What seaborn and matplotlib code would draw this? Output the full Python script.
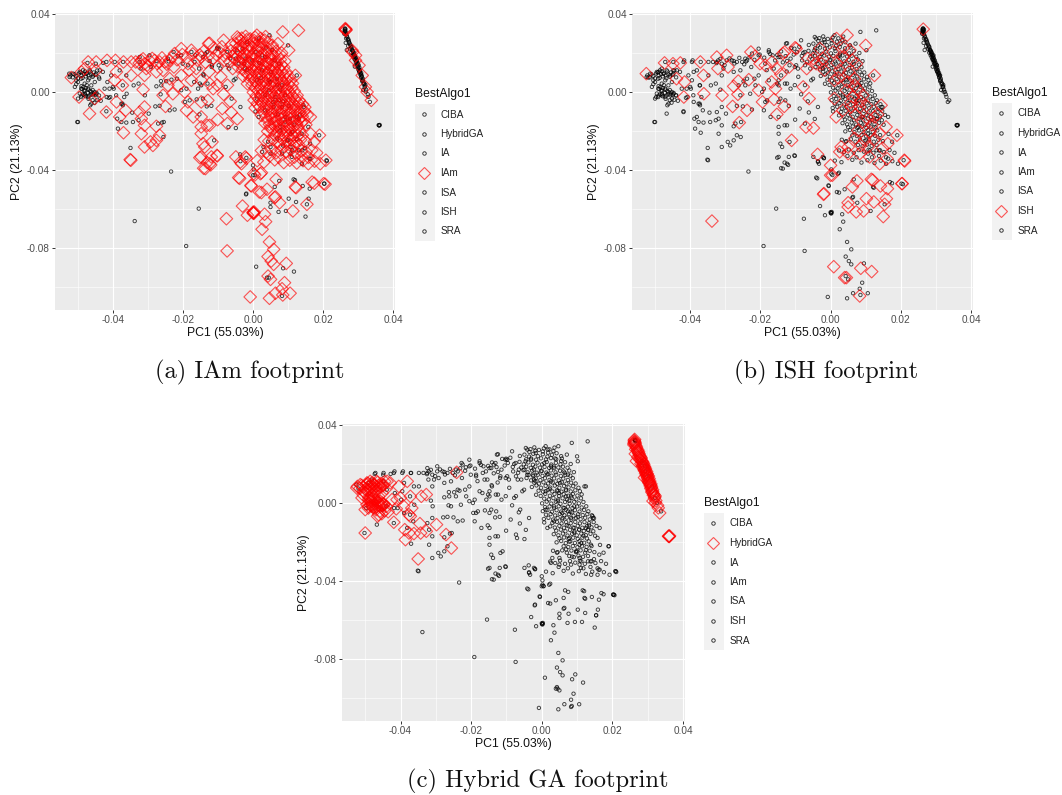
import warnings
import matplotlib
matplotlib.use("Agg")
import matplotlib.pyplot as plt
from matplotlib.lines import Line2D
from matplotlib.patches import Rectangle
from matplotlib.ticker import MultipleLocator
import pandas as pd
import seaborn as sns

warnings.filterwarnings("ignore")

ALGOS = ["CIBA", "HybridGA", "IA", "IAm", "ISA", "ISH", "SRA"]
X_TICKS = [-0.04, -0.02, 0.00, 0.02, 0.04]
Y_TICKS = [-0.08, -0.04, 0.00, 0.04]

# values as (PC1, PC2)
iam_left = [
    (-.0519, .0074), (-.049, .0103), (-.0481, .012), (-.0471, .0154), (-.0448, .0154), (-.0448, .0111),
    (-.0497, -.0026), (-.0452, -.0034), (-.044, -.0017), (-.0467, -.0111), (-.0419, -.0103), (-.0417, .0162),
    (-.0393, .0162), (-.037, .0154), (-.0348, .0154), (-.039, .0103), (-.0395, .006), (-.0373, .0034),
    (-.0348, .0085), (-.0314, .0012), (-.039, -.0051), (-.0364, -.0094), (-.0381, -.0128), (-.037, -.0209),
    (-.0351, -.0347), (-.0319, -.0214), (-.031, -.0077), (-.0324, -.0103), (-.0319, -.0137), (-.031, -.0171),
    (-.031, -.0282), (-.0293, -.0256), (-.025, -.0074), (-.0257, -.0017), (-.0335, .0154), (-.032, .0162),
    (-.031, .0145), (-.0296, .0162), (-.0281, .0162), (-.0267, .0154), (-.0252, .0154), (-.0238, .0162),
    (-.0224, .0197), (-.0205, .0222), (-.0176, .0214), (-.0152, .019), (-.0124, .025), (-.0096, .0205),
    (-.0305, .012), (-.031, .0085), (-.0276, .0103), (-.0257, .0111), (-.0243, .0034), (-.0229, -.0009),
    (-.0214, .0034), (-.0195, 0.0), (-.0186, -.0051), (-.019, -.0094), (-.0171, -.0128), (-.0148, -.0128),
    (-.0129, -.0043), (-.0148, -.0051), (-.0176, .006), (-.0162, .012), (-.0148, .006), (-.0124, .0043),
    (-.0114, .0017), (-.0186, .0145), (-.0148, .0179), (-.0114, .0171), (-.0148, -.0179), (-.0124, -.0171),
    (-.0148, -.0214), (-.0143, -.0265), (-.0138, -.0282), (-.0148, -.0333), (-.0119, -.0333), (-.0124, -.0368),
    (-.0136, -.0393), (-.0276, -.0176), (-.0267, -.0222), (-.0276, -.0248), (-.0286, -.0274),
    (-.0325, .0148), (-.0314, .017), (-.0302, .0138), (-.0288, .0172), (-.0274, .0146), (-.026, .0175),
    (-.0246, .0142), (-.0231, .0178), (-.0217, .0165), (-.0202, .0192), (-.0189, .0176), (-.0172, .0195),
    (-.0158, .0162), (-.0141, .0208), (-.0128, .0184), (-.0112, .0226), (-.0105, .0192), (-.0089, .0232),
    (-.0082, .0185), (-.0136, .0152), (-.0182, .0112), (-.0205, .0085), (-.0226, .0128), (-.0238, .0068),
    (-.0125, .0105), (-.0102, .0128), (-.0092, .0078), (-.0102, .0035), (-.0084, -.0012), (-.0073, .0035),
    (-.0065, -.0048), (-.0088, -.0085), (-.0062, -.0105), (-.0101, -.0142), (-.0073, -.0162), (-.0045, -.0138),
]
iam_core = [
    (.013, .0316), (.0085, .0308), (.0011, .0291), (-.0041, .0274), (-.0127, .0248), (-.0084, .0265),
    (.0102, .0214), (.0121, .0085), (.0164, -.0128), (.019, -.0222), (.0208, -.035), (.0202, -.047),
    (.0169, -.0462), (.0121, -.0487), (-.0131, -.0171), (-.0103, -.0325), (-.0117, -.0256),
    (-.0045, .0282), (-.0032, .0276), (-.0021, .0285), (-.0008, .0272), (.0006, .028), (.0022, .0275), (.0036, .0284),
    (-.0062, .0241), (-.0049, .0248), (-.0036, .0238), (-.0024, .0252), (-.0011, .024), (.0003, .025), (.0016, .0238),
    (.0029, .0247), (.0042, .0255), (.0055, .024), (.0071, .0248),
    (-.0078, .02), (-.0063, .0211), (-.0051, .0198), (-.0038, .0208), (-.0025, .0196), (-.0012, .0207), (.0001, .0198),
    (.0014, .021), (.0027, .0197), (.004, .0206), (.0053, .0198), (.0066, .0209), (.0082, .02),
    (-.0081, .0162), (-.0067, .0155), (-.0052, .0168), (-.004, .0157), (-.0027, .0166), (-.0014, .0155), (0.0, .0165),
    (.0013, .0156), (.0026, .0167), (.0039, .0157), (.0052, .0165), (.0065, .0155), (.0078, .0166), (.0091, .0158),
    (-.0058, .012), (-.0043, .0128), (-.003, .0116), (-.0017, .0126), (-.0004, .0117), (.0009, .0127), (.0022, .0118),
    (.0035, .0126), (.0048, .0116), (.0061, .0125), (.0074, .0118), (.0088, .0127),
    (-.0028, .0082), (-.0015, .009), (-.0002, .0078), (.0011, .0088), (.0024, .0079), (.0037, .0089), (.005, .0078),
    (.0063, .0087), (.0076, .008), (.0089, .0086), (.0104, .0078),
    (-.0016, .0042), (-.0003, .0036), (.001, .0047), (.0023, .0037), (.0036, .0046), (.0049, .0036), (.0062, .0045),
    (.0075, .0037), (.0088, .0046), (.0101, .0038), (.0113, .0044),
    (.0001, -.0002), (.0014, .0007), (.0027, -.0003), (.004, .0006), (.0053, -.0004), (.0066, .0005), (.0079, -.0003),
    (.0092, .0006), (.0105, -.0002), (.0118, .0005),
    (.0003, -.0042), (.0016, -.0036), (.0029, -.0045), (.0042, -.0037), (.0055, -.0044), (.0068, -.0035), (.0081, -.0045),
    (.0094, -.0037), (.0107, -.0044), (.012, -.0036), (.0132, -.0043),
    (.0006, -.0082), (.0019, -.0076), (.0032, -.0085), (.0045, -.0077), (.0058, -.0084), (.0071, -.0075), (.0084, -.0085),
    (.0097, -.0078), (.011, -.0083), (.0123, -.0076), (.0136, -.0084), (.0148, -.0078),
    (.0024, -.012), (.0037, -.0126), (.005, -.0117), (.0063, -.0127), (.0076, -.0118), (.0089, -.0126), (.0102, -.0117),
    (.0115, -.0127), (.0128, -.0119), (.0141, -.0125), (.0155, -.0118),
    (.0034, -.016), (.0047, -.0166), (.006, -.0157), (.0073, -.0167), (.0086, -.0158), (.0099, -.0166), (.0112, -.0157),
    (.0125, -.0165), (.0138, -.0158), (.0151, -.0168),
    (.0042, -.0202), (.0055, -.0195), (.0068, -.0206), (.0081, -.0197), (.0094, -.0205), (.0107, -.0196), (.012, -.0204),
    (.0133, -.0197), (.0165, -.0215),
    (.0032, -.0245), (.0045, -.0252), (.0058, -.0243), (.0071, -.0255), (.0084, -.0244), (.0097, -.0252), (.011, -.0243),
    (.0123, -.0255), (.0136, -.0245), (.0149, -.0252), (.0175, -.0255),
    (.0024, -.03), (.0038, -.0308), (.0052, -.0295), (.0066, -.0312), (.008, -.0298), (.0095, -.0306), (.0108, -.0296),
    (.0122, -.0312), (.0138, -.03), (.0152, -.0308), (.0168, -.0298), (.0182, -.0312),
    (.0012, -.0352), (.0031, -.036), (.0062, -.0348), (.0088, -.0362), (.0105, -.035), (.0125, -.0364), (.0143, -.0352),
    (.0158, -.0368), (.0176, -.0355), (.0192, -.0368),
]
iam_dense = [
    (-.0035, .0262), (-.0018, .0268), (.0003, .0264), (.0018, .0258), (.0033, .0266),
    (-.0044, .0224), (-.003, .0228), (-.0016, .0222), (-.0002, .0229), (.0012, .0223), (.0026, .023), (.0041, .0224), (.0057, .0228),
    (-.0058, .0182), (-.0044, .0186), (-.0031, .018), (-.0018, .0187), (-.0005, .0181), (.0008, .0185), (.0021, .018),
    (.0034, .0187), (.0047, .0182), (.006, .0186), (.0073, .0181),
    (-.0037, .0144), (-.0024, .0138), (-.0011, .0145), (.0002, .0139), (.0015, .0146), (.0028, .014), (.0041, .0145),
    (.0054, .0139), (.0067, .0144), (.0081, .014),
    (-.0021, .0104), (-.0008, .0099), (.0005, .0106), (.0018, .01), (.0031, .0105), (.0044, .0098), (.0057, .0106),
    (.007, .0099), (.0083, .0104), (.0096, .01),
    (-.0009, .0063), (.0004, .0058), (.0017, .0066), (.003, .0059), (.0043, .0065), (.0056, .0058), (.0069, .0064),
    (.0082, .0059), (.0095, .0065), (.0108, .006),
    (.0007, .0022), (.002, .0018), (.0033, .0025), (.0046, .0017), (.0059, .0024), (.0072, .0018), (.0085, .0026),
    (.0098, .0018), (.0111, .0024),
    (.0009, -.0021), (.0022, -.0018), (.0035, -.0025), (.0048, -.0017), (.0061, -.0024), (.0074, -.0019), (.0087, -.0026),
    (.01, -.0018), (.0113, -.0023), (.0126, -.0017),
    (.0012, -.006), (.0025, -.0057), (.0038, -.0064), (.0051, -.0056), (.0064, -.0063), (.0077, -.0057), (.009, -.0065),
    (.0103, -.0058), (.0116, -.0062), (.0129, -.0057), (.0142, -.0063),
    (.003, -.0102), (.0043, -.0097), (.0056, -.0105), (.0069, -.0098), (.0082, -.0104), (.0095, -.0097), (.0108, -.0105),
    (.0121, -.0098), (.0134, -.0104), (.0147, -.0098),
    (.0041, -.0142), (.0054, -.0137), (.0067, -.0145), (.008, -.0138), (.0093, -.0146), (.0106, -.0137), (.0119, -.0144),
    (.0132, -.0139), (.0146, -.0145),
    (.005, -.0181), (.0063, -.0177), (.0076, -.0185), (.0089, -.0178), (.0102, -.0184), (.0115, -.0178), (.0128, -.0182),
    (.0062, -.0222), (.0075, -.0226), (.0088, -.0221), (.0101, -.0227), (.0114, -.0222), (.0127, -.0225), (.0141, -.0221),
    (.0078, -.0272), (.0091, -.0278), (.0104, -.027), (.0117, -.0276), (.0131, -.0272), (.0118, -.0335), (.0138, -.0328),
    (.0048, -.0328), (.0074, -.0335), (.0158, -.0335),
]
iam_tail = [
    (-.0349, -.035), (-.0152, -.0337), (-.0131, -.0362), (-.0141, -.0391), (-.0121, -.0374), (-.0102, -.0328),
    (-.0033, -.0368), (-.0019, -.034), (-.0038, -.0443), (.0005, -.0426), (-.0005, -.0482), (.0024, -.0414),
    (.0024, -.0516), (.004, -.0499), (.0066, -.0448), (.0062, -.0542), (.0076, -.0568), (-.003, -.0585),
    (-.0016, -.0632), (.0002, -.0619), (.0001, -.0621), (0.0, -.0617), (.0002, -.0623), (.0003, -.0615),
    (.0033, -.0627), (.0036, -.0665), (.0026, -.0704), (-.0076, -.065), (-.0074, -.0815), (.0047, -.0769),
    (.0059, -.0807), (.0043, -.0844), (.0052, -.0867), (.0059, -.0884), (.0095, -.0879), (.0043, -.0944),
    (.005, -.0961), (.009, -.0978), (.0083, -.1009), (.0106, -.1032), (.0085, -.1041), (.0064, -.1032),
    (.0047, -.1058), (-.0008, -.1051), (.0114, -.061), (.0175, -.0468), (.0206, -.0473), (.0154, -.0576),
    (.0123, -.0491), (.0064, -.0538), (.0018, -.0513), (-.0006, -.0479), (-.0041, -.0439), (-.0036, -.0359),
    (.0021, -.0419), (.0002, -.0419), (-.0049, -.0333), (-.0022, -.0333),
]
iam_streak = [
    (.0264, .0325), (.0263, .0321), (.0266, .032), (.0265, .0316), (.0283, .0214), (.0285, .0205), (.0293, .0188),
    (.0293, .0162), (.0303, .0137), (.0312, .0085), (.0321, .0026), (.0326, 0.0), (.0338, -.0043),
]
ish_left = [
    (-.0525, .0094), (-.0473, .0149), (-.0449, .0145), (-.0428, .0149), (-.0439, .0068), (-.0416, .0051),
    (-.0418, -.0026), (-.0371, .0154), (-.0362, .0085), (-.0361, -.0009), (-.0324, .0179), (-.0321, .012),
    (-.0296, .0188), (-.0292, .0128), (-.0309, -.0017), (-.0276, .0029), (-.0263, .0056), (-.0264, -.0012),
    (-.0279, -.0074), (-.0233, .0063), (-.0238, -.0094), (-.026, -.0157), (-.0227, .0205), (-.0215, .0183),
    (-.0201, .0145), (-.0186, .0137), (-.0205, .0009), (-.0194, -.0051), (-.0167, .0154), (-.0168, .0051),
    (-.0161, -.0038), (-.0153, -.0115), (-.0154, .012), (-.0142, .0091), (-.0157, .0017), (-.0132, -.0074),
    (-.0136, .0197), (-.0118, .0128), (-.0101, .0227), (-.0078, .0026), (-.0061, -.0034), (-.007, -.018),
    (-.0049, -.0185), (-.0111, -.0248), (-.0068, .012), (-.0049, .0171), (-.0025, .0145), (-.003, .0222),
]
ish_core = [
    (.0017, .0274), (.0047, .0291), (.01, .0239), (.0125, .0085), (.0144, -.0068), (.0158, -.0179), (.0189, -.0222),
    (.021, -.035), (.0203, -.047), (.003, -.0282), (.0026, -.0307), (.005, -.0282), (.005, -.0316), (.0083, -.0316),
    (.0107, -.0282), (.0111, -.0333), (.014, -.0368), (.0163, -.0265), (.0161, -.0342), (.0139, -.0214), (.0097, -.0248),
    (.0016, -.0128), (.0035, -.0094), (.0059, -.0077), (.0083, -.0077), (.0106, -.0137), (.0125, -.0128), (.0045, .0009),
    (.0064, -.0026), (.0011, .006), (.0026, .0111), (.0035, .0179), (-.0022, .0171), (-.0041, .0145), (-.0065, .0171),
    (-.0098, .0222), (-.0131, .0205), (.0069, .0034), (.0092, -.0017), (.0011, -.0034), (.0074, .0145), (.0055, .0215),
    (.0052, .0102), (.0068, .0068), (.0049, .0051), (.0078, .0012), (.0058, -.0052), (.0086, -.0048), (.0102, -.0071),
    (.0071, -.0115), (.0092, -.0152), (.0118, -.0168), (.0134, -.0115), (.0078, -.0198), (.0112, -.0205), (.0069, -.0238),
    (.0086, -.0275), (.0125, -.0242), (.0148, -.0288), (.0018, .0148), (.0038, .0228), (.0062, .0162), (.0007, .0205),
    (-.0018, .0112), (.0022, .0072),
]
ish_tail = [
    (-.0037, -.032), (0.0, -.0376), (0.0, -.0427), (-.0019, -.0521), (-.002, -.0525), (.0005, -.0427), (.0062, -.0487),
    (.0075, -.0456), (.0102, -.0547), (.0123, -.0564), (.0159, -.0547), (.0154, -.0576), (.0162, -.0496), (.0142, -.0482),
    (.0204, -.047), (.0116, -.0448), (.012, -.0452), (.005, -.0568), (.005, -.059), (.0073, -.0615), (.0094, -.061),
    (.015, -.0639), (.0211, -.0354), (.0009, -.0896), (.0086, -.0904), (.0117, -.0921), (.004, -.0952), (.0045, -.0952),
    (.0083, -.1046), (-.0338, -.0662), (.0264, .0322),
]
hybrid_left = [
    (-.0524, .0077), (-.0514, .0094), (-.0505, .006), (-.0495, .0103), (-.0486, .0111), (-.0476, .0094), (-.0467, .0111),
    (-.0457, .0085), (-.0448, .0094), (-.0438, .0111), (-.0429, .0103), (-.0381, .0111), (-.0405, .0085), (-.0509, .0026),
    (-.05, .0051), (-.0491, .0068), (-.0481, .0043), (-.0471, .006), (-.0462, .0034), (-.0452, .0051), (-.0491, .0017),
    (-.0481, .0009), (-.0471, .0017), (-.0462, 0.0), (-.0481, -.0017), (-.0491, -.0026), (-.05, -.0034), (-.0471, -.0026),
    (-.0457, -.0017), (-.0448, -.0009), (-.0453, -.0055), (-.0424, .0017), (-.041, .0017), (-.04, .0026), (-.0391, -.0017),
    (-.0372, .0034), (-.0368, -.0026), (-.0376, -.006), (-.0372, -.0068), (-.0341, .0034), (-.0327, .0043), (-.0419, -.0099),
    (-.05, -.0154), (-.0388, -.0137), (-.0386, -.0188), (-.0376, -.0154), (-.0362, -.0157), (-.0345, -.0106), (-.0343, -.0154),
    (-.0327, -.0145), (-.0298, -.0111), (-.0271, -.0162), (-.0256, -.0231), (-.035, -.0287), (-.0241, .0157),
    (-.0522, .0085), (-.0515, .0075), (-.051, .009), (-.0505, .0082), (-.05, .007), (-.0497, .0095), (-.0492, .01),
    (-.049, .0085), (-.0487, .0072), (-.0483, .0092), (-.048, .0105), (-.0478, .008), (-.0475, .0095), (-.047, .0085),
    (-.0468, .007), (-.0465, .0105), (-.0462, .009), (-.0458, .0078), (-.0455, .01), (-.045, .0088), (-.0445, .011),
    (-.044, .0075), (-.0505, .004), (-.049, .003), (-.0488, .0015), (-.0485, .0025), (-.0482, .0005), (-.048, -.001),
    (-.0478, .002), (-.0475, .0035), (-.0472, -.0005), (-.047, .0012), (-.0468, -.0018), (-.0465, .0005), (-.0462, -.0012),
    (-.0458, .001), (-.0455, -.0008), (-.0452, 0.0), (-.045, -.0015), (-.0447, -.0005), (-.0445, -.004), (-.0495, -.0008),
    (-.049, -.0018), (-.0485, -.0012), (-.0478, -.0022), (-.047, -.0035), (-.0465, -.0068), (-.0462, -.006), (-.0458, -.0042),
    (-.044, -.0018), (-.0435, -.0045), (-.0412, -.003),
]
hybrid_streak = [
    (.0262, .0321), (.0264, .031), (.0261, .0298), (.0268, .0288), (.0266, .0275), (.0271, .0268), (.0265, .0252),
    (.0274, .0256), (.0277, .0243), (.0272, .0235), (.0281, .0232), (.0278, .0222), (.0268, .0215), (.0283, .0218),
    (.0286, .021), (.0281, .0202), (.0289, .0198), (.0285, .0188), (.0291, .0186), (.0288, .0178), (.0294, .0174),
    (.0291, .0165), (.0297, .0162), (.0294, .0152), (.0299, .015), (.0296, .0142), (.0302, .0138), (.0291, .013),
    (.0299, .0128), (.0304, .0125), (.0301, .0115), (.0306, .0112), (.0304, .0102), (.0309, .0098), (.0307, .0088),
    (.0311, .0082), (.0309, .0074), (.0314, .0068), (.0312, .0055), (.0316, .0048), (.0318, .0042), (.0321, .0036),
    (.0319, .0025), (.0315, .001), (.0322, .0002), (.0328, -.0012), (.033, -.0025), (.0334, -.0051),
    (.036, -.0171), (.0361, -.0172), (.0359, -.017), (.0362, -.0169),
    (.0263, .0316), (.0265, .0304), (.0266, .0295), (.0269, .0281), (.0272, .0272), (.0274, .0263), (.0276, .0251),
    (.0279, .0238), (.0281, .0228), (.0284, .0212), (.0287, .0204), (.0286, .0195), (.0289, .019), (.0292, .018),
    (.029, .0171), (.0293, .0168), (.0295, .0158), (.0297, .0148), (.0299, .0142), (.03, .0133), (.0302, .012),
    (.0303, .0108), (.0305, .0105), (.0307, .0095), (.0309, .009), (.031, .0078), (.0312, .0062), (.0314, .0058),
    (.0316, .004), (.032, .003), (.0323, .0012), (.0263, .0326), (.0262, .0312), (.0261, .0305),
]
other_pts = [
    (-.0502, -.0154), (-.0373, -.006), (-.0255, -.0154), (-.0267, -.0071), (-.0224, -.009),
    (-.0262, .0034), (-.0248, .0055), (-.0217, .0068), (-.019, .0017), (-.0181, -.0043), (-.0119, -.0071),
    (-.0143, -.0034), (-.013, .0043), (-.0152, .0043), (-.0073, .0137), (-.0098, .0137), (-.0124, .0159),
    (-.0143, .0179), (-.0176, .0205), (-.0205, .0188), (-.0243, .0171), (-.0276, .0159), (-.0324, .0154),
    (-.0395, .0154), (-.0419, .0154), (-.0398, .0017), (-.0408, -.0026), (-.0234, -.0408), (-.0155, -.0598),
    (-.0191, -.079), (-.0036, -.0355), (-.0019, -.0338), (.0002, -.0397), (.0043, -.0255), (.0164, -.0342),
    (.0107, -.0316), (.01, -.0248), (.0145, -.0077), (.0131, -.0137), (.0092, -.0128), (.0078, -.0179),
    (.0035, -.0017), (.0007, -.01), (-.0036, -.0077), (-.0055, .006), (-.0074, .0205), (-.0103, .0222),
    (-.0046, .0214), (-.0017, .0256), (-.0002, .0162), (-.0022, .012), (.0026, .0188), (.0083, .0034),
    (-.0141, .0085), (-.0148, .0034), (-.0117, .0137), (-.0165, .0188), (-.0093, .012), (-.005, .0068),
    (.0045, .006), (.0074, -.0043), (.0107, -.0214), (.0131, -.0299), (.0141, -.0299), (.0112, -.0299),
]

iam_pts = iam_left + iam_core + iam_dense + iam_tail + iam_streak
ish_pts = ish_left + ish_core + ish_tail
hybrid_pts = hybrid_left + hybrid_streak

rows = []
for name, pts in [("IAm", iam_pts), ("ISH", ish_pts), ("HybridGA", hybrid_pts), ("SRA", other_pts)]:
    for p in pts:
        rows.append({"PC1": p[0], "PC2": p[1], "BestAlgo1": name})
df = pd.DataFrame(rows)

sns.set_theme(style="darkgrid", rc={
    "axes.facecolor": "#EBEBEB",
    "grid.color": "white",
    "axes.edgecolor": "none",
    "xtick.bottom": True,
    "ytick.left": True,
    "xtick.color": "#333333",
    "ytick.color": "#333333",
})
plt.rcParams["font.family"] = ["Liberation Sans", "DejaVu Sans"]

W, H = 1062, 795
fig = plt.figure(figsize=(W / 100, H / 100), dpi=100)


def footprint(box, best, caption, cap_x, cap_y, leg_x, leg_top):
    left, right, top, bottom = box
    ax = fig.add_axes([left / W, 1 - bottom / H, (right - left) / W, (bottom - top) / H])
    others = df[df["BestAlgo1"] != best]
    chosen = df[df["BestAlgo1"] == best]
    sns.scatterplot(data=others, x="PC1", y="PC2", marker="o", s=6, color="black", facecolors="none",
                    edgecolor="black", linewidth=0.65, alpha=0.75, legend=False, ax=ax)
    sns.scatterplot(data=chosen, x="PC1", y="PC2", marker="D", s=41, color="red", facecolors="none",
                    edgecolor="red", linewidth=0.8, alpha=0.65, legend=False, ax=ax)
    ax.set_xlim(-0.05657, 0.04057)
    ax.set_ylim(-0.1118, 0.0405)
    ax.set_xticks(X_TICKS)
    ax.set_yticks(Y_TICKS)
    ax.set_xticklabels(["%.2f" % t if t != 0 else "0.00" for t in X_TICKS])
    ax.set_yticklabels(["%.2f" % t if t != 0 else "0.00" for t in Y_TICKS])
    ax.xaxis.set_minor_locator(MultipleLocator(0.01))
    ax.yaxis.set_minor_locator(MultipleLocator(0.02))
    ax.grid(which="major", color="white", linewidth=0.8)
    ax.grid(which="minor", color="white", linewidth=0.4)
    ax.tick_params(which="major", length=2.2, width=0.7, labelsize=7.2, labelcolor="#4D4D4D", pad=1.5)
    ax.tick_params(which="minor", length=0)
    ax.set_axisbelow(True)
    ax.set_xlabel("PC1 (55.03%)", fontsize=8.8, color="#111111", labelpad=1.5)
    ax.set_ylabel("PC2 (21.13%)", fontsize=8.8, color="#111111", labelpad=3)

    handles = []
    for algo in ALGOS:
        if algo == best:
            handles.append(Line2D([], [], linestyle="none", marker="D", markersize=6.4, markerfacecolor="none",
                                  markeredgecolor="red", markeredgewidth=0.8, alpha=0.65))
        else:
            handles.append(Line2D([], [], linestyle="none", marker="o", markersize=2.5, markerfacecolor="none",
                                  markeredgecolor="black", markeredgewidth=0.65, alpha=0.8))
    leg = ax.legend(handles, ALGOS, title="BestAlgo1", loc="upper left", frameon=False,
                    bbox_to_anchor=(leg_x / W, 1 - (leg_top - 16) / H), bbox_transform=fig.transFigure,
                    borderaxespad=0, borderpad=0, fontsize=7.2, title_fontsize=8.7, labelspacing=0.95,
                    handlelength=1.85, handletextpad=0.68, alignment="left")
    leg.get_title().set_color("#111111")
    for t in leg.get_texts():
        t.set_color("#222222")
    fig.add_artist(Rectangle((leg_x / W, 1 - (leg_top + 137) / H), 20 / W, 137 / H, transform=fig.transFigure,
                             facecolor="#F2F2F2", edgecolor="none", zorder=-1))
    fig.text(cap_x / W, 1 - cap_y / H, caption, family="cmr10", fontsize=17.7, ha="center", va="center", color="#111111")


footprint((55, 395, 13, 310), "IAm", "(a) IAm footprint", 250, 372, 415, 104)
footprint((632, 973, 13, 310), "ISH", "(b) ISH footprint", 826, 372, 992, 103)
footprint((342, 685, 424, 721), "HybridGA", "(c) Hybrid GA footprint", 538, 781, 704, 513)

fig.savefig("out.png", dpi=100)
